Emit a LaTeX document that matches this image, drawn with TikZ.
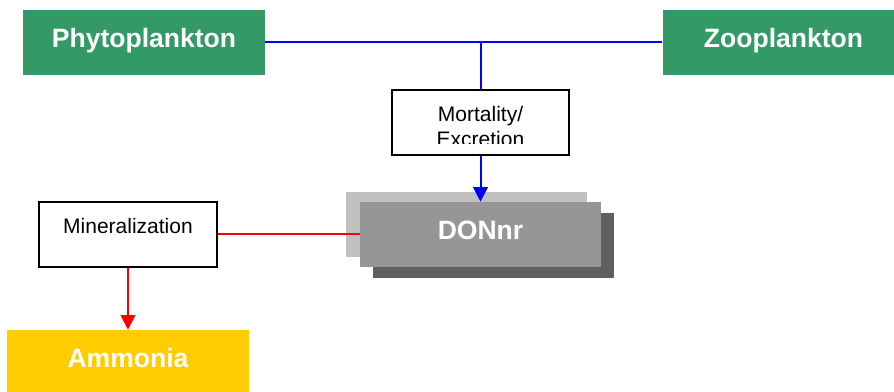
\documentclass[tikz,border=0pt]{standalone}
\usepackage{fontspec}
\setmainfont{Liberation Sans}
\usetikzlibrary{arrows.meta}
\definecolor{boxgreen}{HTML}{339966}
\definecolor{donmain}{HTML}{969696}
\definecolor{donlight}{HTML}{C0C0C0}
\definecolor{dondark}{HTML}{5F5F5F}
\definecolor{ammo}{HTML}{FFCC00}
\begin{document}
\begin{tikzpicture}[x=0.75pt,y=-0.75pt,
  bigbox/.style={rectangle, inner sep=0pt, minimum width=181.5pt, minimum height=48.75pt,
    text=white, text height=14.7pt, text depth=7.5pt,
    font=\fontsize{19.9}{24}\selectfont\bfseries},
  procbox/.style={rectangle, draw=black, line width=1.2pt, fill=white, inner sep=0pt,
    minimum height=48.75pt},
  proctext/.style={anchor=base, inner sep=0pt, font=\fontsize{15.75}{18.75}\selectfont},
  blueline/.style={draw={rgb,255:red,0;green,0;blue,255}, line width=1.5pt},
  redline/.style={draw={rgb,255:red,255;green,0;blue,0}, line width=1.5pt},
  tip/.style={-{Triangle[length=11pt,width=11pt]}}
]
\useasboundingbox (0,0) rectangle (894,392);
\clip (0,0) rectangle (894,392);

% top boxes
\node[bigbox, fill=boxgreen] (phy) at (144,42.5) {Phytoplankton};
\node[bigbox, fill=boxgreen] (zoo) at (783.5,42.5) {Zooplankton};

% DONnr stack
\fill[donlight] (346,192) rectangle (587,257);
\fill[dondark] (373,213) rectangle (614,278);
\node[bigbox, fill=donmain, minimum width=180.75pt] (don) at (480.5,234.5) {DONnr};

% process boxes
\node[procbox, minimum width=132.75pt] (mort) at (480.5,122.5) {};
\begin{scope}
  \clip (392,90) rectangle (569,144);
  \node[proctext] (mortt1) at (480.5,121.7) {Mortality/};
  \node[proctext] (mortt2) at (480.5,146.7) {Excretion};
\end{scope}
\node[procbox, minimum width=133.5pt] (mine) at (128,234.5) {};
\node[proctext] (minet) at (128,233.3) {Mineralization};

% ammonia
\node[bigbox, fill=ammo] (amm) at (128,362.5) {Ammonia};

% connectors
\coordinate (junc) at (phy.east -| mort.north);
\draw[blueline] (phy.east) -- (zoo.west);
\draw[blueline] (junc) -- (mort.north);
\draw[blueline, tip] (mort.south) -- (don.north);
\draw[redline] (mine.east) -- (don.west);
\draw[redline, tip] (mine.south) -- (amm.north);
\end{tikzpicture}
\end{document}
